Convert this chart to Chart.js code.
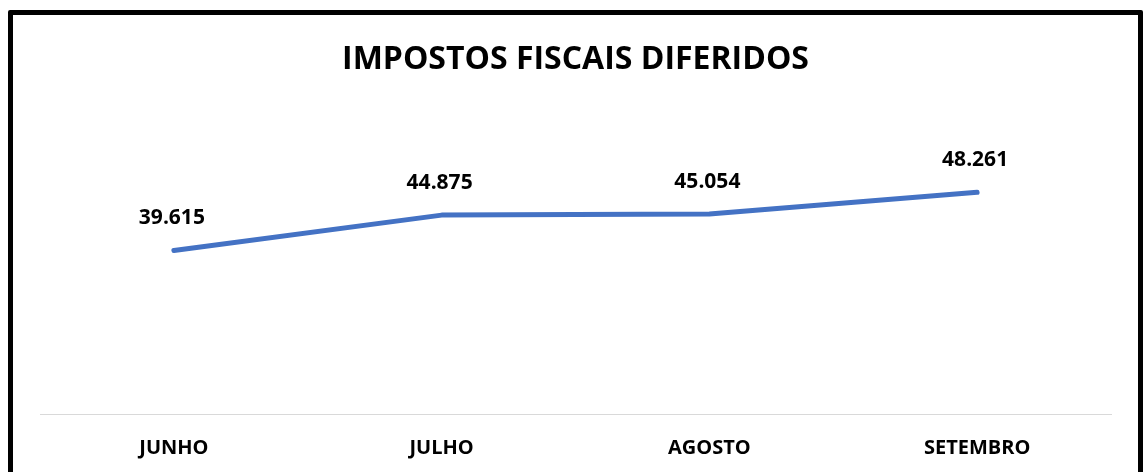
<!DOCTYPE html>
<html>
<head>
<meta charset="utf-8">
<script src="https://cdn.jsdelivr.net/npm/chart.js@4/dist/chart.umd.min.js"></script>
<style>
    html, body { margin: 0; padding: 0; background: #fff; }
    body { width: 1147px; height: 472px; overflow: hidden; position: relative; }
    #grafico { position: absolute; left: 0; top: 0; }
    .moldura {
        position: absolute; left: 8px; top: 10px;
        width: 1135px; height: 520px;
        border: 5px solid #000; border-radius: 2px;
        box-sizing: border-box; pointer-events: none;
    }
</style>
</head>
<body>
<canvas id="grafico" width="1147" height="482"></canvas>
<div class="moldura"></div>
<script>
// Dados
const meses = ["JUNHO", "JULHO", "AGOSTO", "SETEMBRO"];
const valores = [39.615, 44.875, 45.054, 48.261];
const rotulos = ["39.615", "44.875", "45.054", "48.261"];

const FONTE = "'Open Sans', 'Liberation Sans', sans-serif";

// Rótulos de dados acima dos pontos
const rotulosPlugin = {
    id: "rotulos",
    afterDatasetsDraw(chart) {
        const ctx = chart.ctx;
        const meta = chart.getDatasetMeta(0);
        ctx.save();
        ctx.font = "bold 21px " + FONTE;
        ctx.fillStyle = "#000";
        ctx.textAlign = "center";
        ctx.textBaseline = "middle";
        meta.data.forEach((ponto, i) => {
            ctx.fillText(rotulos[i], ponto.x - 2, ponto.y - 32);
        });
        ctx.restore();
    }
};

const ctx = document.getElementById("grafico");
new Chart(ctx, {
    type: "line",
    data: {
        labels: meses,
        datasets: [{
            data: valores,
            borderColor: "#4472C4",
            borderWidth: 5,
            borderCapStyle: "round",
            borderJoinStyle: "round",
            pointRadius: 0,
            tension: 0,
            fill: false
        }]
    },
    options: {
        responsive: false,
        animation: false,
        layout: { padding: { left: 40, right: 36, top: 0, bottom: 0 } },
        plugins: {
            legend: { display: false },
            tooltip: { enabled: false },
            title: {
                display: true,
                text: "IMPOSTOS FISCAIS DIFERIDOS",
                color: "#000",
                font: { family: FONTE, size: 32, weight: "bold" },
                padding: { top: 41, bottom: 34 }
            }
        },
        scales: {
            x: {
                offset: true,
                grid: { display: false, drawTicks: false },
                border: { display: true, color: "#d9d9d9", width: 1 },
                ticks: {
                    color: "#000",
                    padding: 22,
                    font: { family: FONTE, size: 20, weight: "bold" }
                }
            },
            y: {
                display: false,
                min: 15.3,
                max: 60
            }
        }
    },
    plugins: [rotulosPlugin]
});
</script>
</body>
</html>
